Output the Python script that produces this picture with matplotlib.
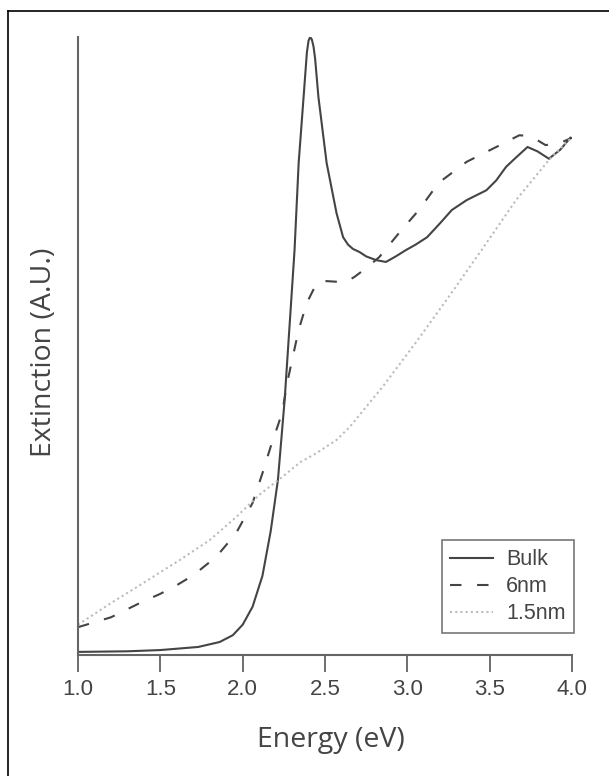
# Extinction spectra: bulk vs 6nm vs 1.5nm

import matplotlib.pyplot as plt
from matplotlib.lines import Line2D

# Bulk
bulk_x = [1.0, 1.3, 1.5, 1.73, 1.86, 1.94, 2.0, 2.06, 2.12, 2.17, 2.214, 2.255, 2.295, 2.315,
          2.34, 2.37, 2.39, 2.40, 2.41, 2.42, 2.43, 2.44, 2.46, 2.51, 2.57, 2.61, 2.64, 2.67,
          2.71, 2.75, 2.81, 2.87, 2.93, 2.99, 3.05, 3.12, 3.2, 3.27, 3.36, 3.48, 3.54, 3.6,
          3.66, 3.73, 3.79, 3.86, 3.93, 3.99]
bulk_y = [0.005, 0.006, 0.008, 0.013, 0.021, 0.032, 0.049, 0.078, 0.128, 0.20, 0.283, 0.413,
          0.574, 0.655, 0.796, 0.903, 0.975, 0.994, 1.0, 0.996, 0.985, 0.965, 0.903, 0.796,
          0.715, 0.676, 0.664, 0.657, 0.652, 0.645, 0.639, 0.636, 0.645, 0.655, 0.664, 0.676,
          0.699, 0.720, 0.736, 0.752, 0.768, 0.790, 0.805, 0.822, 0.815, 0.803, 0.818, 0.837]

# 6nm
nm6_x = [1.0, 1.2, 1.39, 1.5, 1.6, 1.7, 1.84, 1.96, 2.06, 2.12, 2.17, 2.24, 2.27, 2.3, 2.34,
         2.39, 2.45, 2.51, 2.57, 2.63, 2.68, 2.75, 2.83, 2.95, 3.07, 3.19, 3.36, 3.54, 3.68,
         3.73, 3.79, 3.84, 3.94, 4.0]
nm6_y = [0.045, 0.061, 0.086, 0.099, 0.113, 0.129, 0.159, 0.197, 0.246, 0.294, 0.337, 0.392,
         0.440, 0.477, 0.526, 0.570, 0.602, 0.605, 0.604, 0.604, 0.612, 0.626, 0.644, 0.683,
         0.720, 0.764, 0.798, 0.822, 0.841, 0.840, 0.833, 0.825, 0.830, 0.837]

# 1.5nm
nm15_x = [1.0, 1.2, 1.4, 1.5, 1.62, 1.8, 1.96, 2.1, 2.24, 2.35, 2.45, 2.57, 2.65, 2.85, 3.05,
          3.25, 3.45, 3.66, 3.86, 3.98, 4.0]
nm15_y = [0.049, 0.084, 0.117, 0.134, 0.154, 0.186, 0.223, 0.259, 0.288, 0.312, 0.327, 0.348,
          0.369, 0.434, 0.505, 0.579, 0.655, 0.736, 0.801, 0.833, 0.837]

xticks = [1.0, 1.5, 2.0, 2.5, 3.0, 3.5, 4.0]

fig = plt.figure(figsize=(6.09, 7.76), dpi=100)
ax = fig.add_axes([78/609, 121/776, 494/609, 618/776])

ax.plot(bulk_x, bulk_y, color='#444444', lw=1.5, label='Bulk')
ax.plot(nm6_x, nm6_y, color='#444444', lw=1.5, dashes=(5.5, 7.5), label='6nm')
ax.plot(nm15_x, nm15_y, color='#bbbbbb', lw=1.5, linestyle=(0, (1, 1.5)), label='1.5nm')

ax.set_xlim(1.0, 4.0)
ax.set_ylim(0, 1.0)
ax.set_xticks(xticks)
ax.set_xticklabels(['%.1f' % t for t in xticks], fontfamily='Liberation Sans',
                   fontsize=16, color='#444444')
ax.set_yticks([])
ax.tick_params(axis='x', length=12, width=1.2, color='#555555', pad=5)

for s in ['top', 'right']:
    ax.spines[s].set_visible(False)
for s in ['left', 'bottom']:
    ax.spines[s].set_color('#666666')
    ax.spines[s].set_linewidth(1.5)

ax.set_xlabel('Energy (eV)', fontfamily='Open Sans', fontsize=20.5, color='#444444')
ax.set_ylabel('Extinction (A.U.)', fontfamily='Open Sans', fontsize=20.5, color='#444444')
ax.xaxis.set_label_coords(0.512, -0.115)
ax.yaxis.set_label_coords(-0.04, 0.49)

leg = ax.legend(loc='lower right', bbox_to_anchor=(1.005, 0.036), borderaxespad=0,
                prop={'family': 'Liberation Sans', 'size': 15.5}, fancybox=False,
                handlelength=2.0, labelspacing=0.28, handletextpad=0.6, borderpad=0.4)
leg.get_frame().set_edgecolor('#555555')
leg.get_frame().set_linewidth(1.2)
for t in leg.get_texts():
    t.set_color('#444444')

# 外框线（只有上边和左边）
fig.add_artist(Line2D([8/609, 1], [1 - 11/776, 1 - 11/776], color='black', lw=1.2))
fig.add_artist(Line2D([8/609, 8/609], [0, 1 - 11/776], color='black', lw=1.2))

plt.savefig('out.png', dpi=100)
